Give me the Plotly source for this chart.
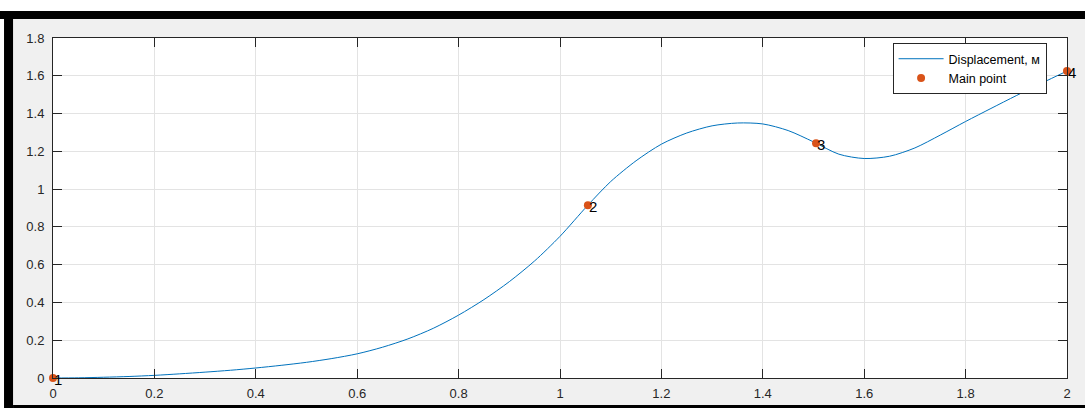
import plotly.graph_objects as go

# Curve values
x_curve = [0.00, 0.05, 0.10, 0.15, 0.20, 0.25, 0.30, 0.35, 0.40, 0.45,
           0.50, 0.55, 0.60, 0.65, 0.70, 0.75, 0.80, 0.85, 0.90, 0.95,
           1.00, 1.055, 1.10, 1.15, 1.20, 1.25, 1.30, 1.35, 1.40, 1.45,
           1.50, 1.55, 1.60, 1.65, 1.70, 1.75, 1.80, 1.85, 1.90, 1.95, 2.00]
y_curve = [0.000, 0.001, 0.004, 0.008, 0.014, 0.022, 0.031, 0.041, 0.053, 0.067,
           0.083, 0.103, 0.128, 0.163, 0.207, 0.263, 0.333, 0.415, 0.510, 0.620,
           0.750, 0.915, 1.040, 1.150, 1.238, 1.297, 1.335, 1.350, 1.345, 1.310,
           1.250, 1.185, 1.162, 1.174, 1.218, 1.286, 1.358, 1.427, 1.495, 1.561, 1.625]

# Main points
x_points = [0.0, 1.055, 1.505, 2.0]
y_points = [0.0, 0.915, 1.243, 1.625]
point_labels = ["1", "2", "3", "4"]

x_ticks = [0, 0.2, 0.4, 0.6, 0.8, 1, 1.2, 1.4, 1.6, 1.8, 2]
x_ticktext = ["0", "0.2", "0.4", "0.6", "0.8", "1", "1.2", "1.4", "1.6", "1.8", "2"]
y_ticks = [0, 0.2, 0.4, 0.6, 0.8, 1, 1.2, 1.4, 1.6, 1.8]
y_ticktext = ["0", "0.2", "0.4", "0.6", "0.8", "1", "1.2", "1.4", "1.6", "1.8"]

LINE = "#0072BD"
PT = "#D95319"
AX = "#262626"
FONT = "Liberation Sans, Arial, sans-serif"

fig = go.Figure()
fig.add_trace(go.Scatter(x=x_curve, y=y_curve, mode="lines", name="Displacement, м",
                         line=dict(color=LINE, width=1, shape="spline", smoothing=0.8)))
fig.add_trace(go.Scatter(x=x_points, y=y_points, mode="markers", name="Main point",
                         marker=dict(color=PT, size=8), cliponaxis=False))

for xv, yv, t in zip(x_points, y_points, point_labels):
    fig.add_annotation(x=xv, y=yv, text=t, showarrow=False, xanchor="left", yanchor="middle",
                       xshift=-1, yshift=-1,
                       font=dict(family=FONT, size=15, color="#000000"))

axis_common = dict(showline=True, linecolor=AX, linewidth=1, mirror="ticks",
                   ticks="inside", ticklen=9, tickcolor=AX, tickwidth=1,
                   showgrid=True, gridcolor="#e3e3e3", gridwidth=1, zeroline=False,
                   automargin=False,
                   tickfont=dict(family=FONT, size=13, color=AX))

fig.update_xaxes(range=[0, 2], tickvals=x_ticks, ticktext=x_ticktext,
                 ticklabelstandoff=3, **axis_common)
fig.update_yaxes(range=[0, 1.8], tickvals=y_ticks, ticktext=y_ticktext,
                 ticklabelstandoff=5, **axis_common)

# Screenshot frame
def pr(x0, y0, x1, y1, color):
    fig.add_shape(type="rect", xref="paper", yref="paper", x0=x0, y0=y0, x1=x1, y1=y1,
                  fillcolor=color, line=dict(width=0), layer="above")

pr(-0.06, 1.0794, 1.03, 1.12, "#ffffff")
pr(-0.06, 1.0559, 1.03, 1.0794, "#000000")
pr(-0.06, -0.1, -0.0483, 1.0559, "#ffffff")
pr(-0.0483, -0.1, -0.0394, 1.0559, "#000000")
pr(-0.0394, -0.1, 1.03, -0.0794, "#000000")

fig.update_layout(
    width=1085, height=408, autosize=False,
    margin=dict(l=53, r=18, t=38, b=30, pad=0),
    paper_bgcolor="#f0f0f0", plot_bgcolor="#ffffff",
    showlegend=True,
    legend=dict(x=0.828, y=0.985, xanchor="left", yanchor="top",
                bgcolor="#ffffff", bordercolor=AX, borderwidth=1,
                font=dict(family=FONT, size=12.5, color="#000000"),
                itemwidth=45, tracegroupgap=0),
)

fig.write_html("out.html", config={"displayModeBar": False, "responsive": False},
               post_script="document.body.style.margin='0';document.body.style.overflow='hidden';")
